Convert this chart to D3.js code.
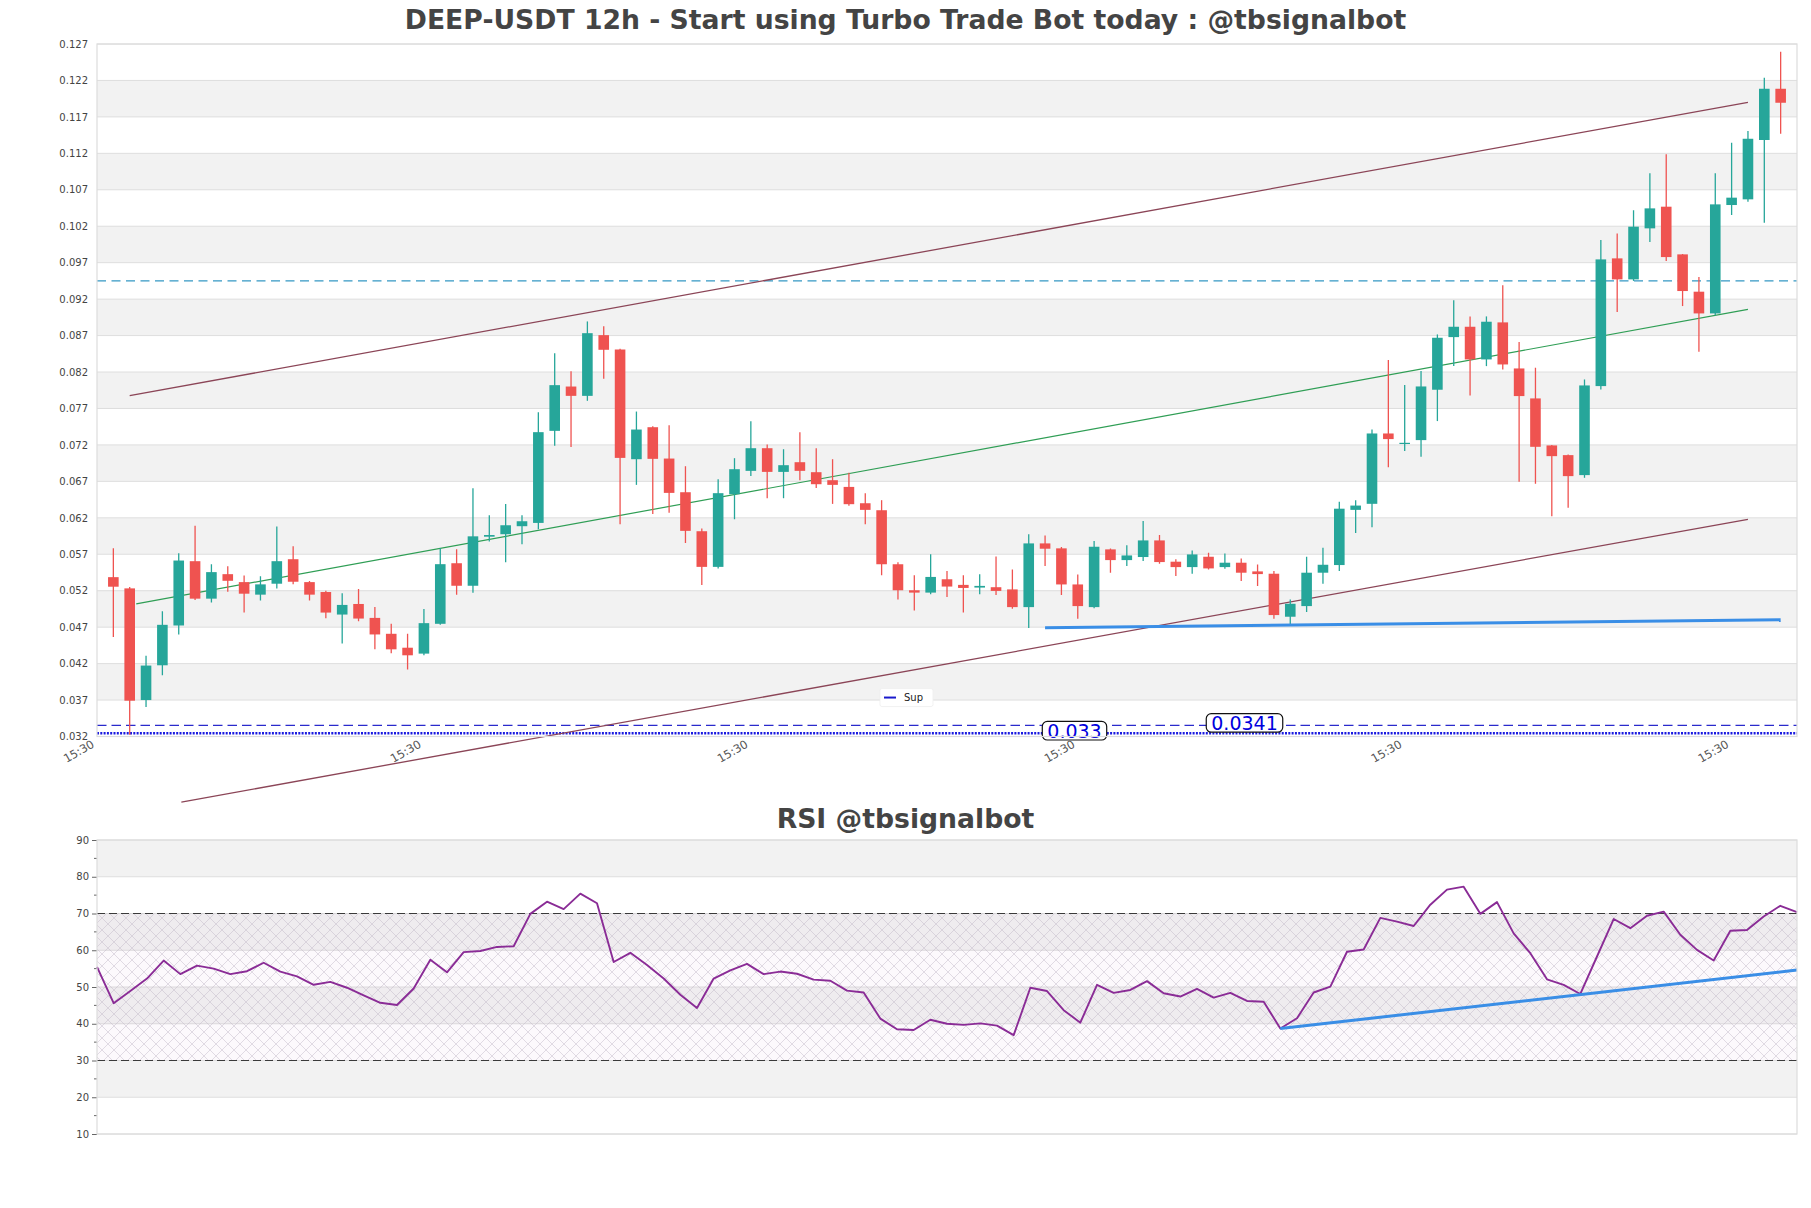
<!DOCTYPE html>
<html><head><meta charset="utf-8">
<script src="https://cdn.jsdelivr.net/npm/d3@7"></script>
<style>body{margin:0;background:#fff;} svg text{font-family:"DejaVu Sans",sans-serif;}</style>
</head><body><svg id="chart" width="1811" height="1208"></svg>
<script>
// ---------------- DATA ----------------
const opens = [
0.05386,0.05232,0.03700,0.04177,0.04723,0.05605,0.05091,0.05427,0.05318,0.05146,
0.05296,0.05632,0.05318,0.05182,0.04873,0.05018,0.04827,0.04609,0.04418,0.04337,
0.04746,0.05577,0.05268,0.05941,0.05975,0.06085,0.06130,0.07393,0.08001,0.07873,
0.08706,0.08509,0.07004,0.07443,0.07013,0.06551,0.06016,0.05527,0.06524,0.06844,
0.07155,0.06830,0.06963,0.06826,0.06716,0.06624,0.06400,0.06304,0.05563,0.05206,
0.05174,0.05357,0.05280,0.05243,0.05248,0.05218,0.04975,0.05849,0.05781,0.05286,
0.04975,0.05767,0.05620,0.05662,0.05890,0.05598,0.05524,0.05666,0.05524,0.05584,
0.05465,0.05433,0.04843,0.04989,0.05447,0.05552,0.06309,0.06392,0.07357,0.07216,
0.07266,0.07957,0.08679,0.08821,0.08373,0.08881,0.08249,0.07838,0.07193,0.07060,
0.06786,0.08007,0.09759,0.09471,0.10171,0.10468,0.09814,0.09302,0.09004,0.10491,
0.10569,0.11383,0.12086];
const highs = [
0.05782,0.05250,0.04309,0.04918,0.05714,0.06090,0.05564,0.05536,0.05409,0.05400,
0.06082,0.05809,0.05332,0.05200,0.05164,0.05223,0.04977,0.04746,0.04609,0.04950,
0.05782,0.05768,0.06606,0.06236,0.06391,0.06236,0.07649,0.08459,0.08212,0.08894,
0.08829,0.08520,0.07658,0.07457,0.07471,0.06908,0.06053,0.06730,0.07018,0.07526,
0.07205,0.07141,0.07375,0.07155,0.07004,0.06817,0.06538,0.06442,0.05591,0.05412,
0.05700,0.05472,0.05412,0.05426,0.05668,0.05492,0.05973,0.05959,0.05799,0.05424,
0.05881,0.05780,0.05822,0.06156,0.05963,0.05630,0.05753,0.05721,0.05712,0.05643,
0.05561,0.05470,0.05081,0.05666,0.05790,0.06421,0.06441,0.07412,0.08364,0.08021,
0.08213,0.08716,0.09183,0.08963,0.08963,0.09389,0.08611,0.08259,0.07200,0.07070,
0.08098,0.10011,0.10102,0.10418,0.10926,0.11186,0.09820,0.09503,0.10926,0.11346,
0.11506,0.12237,0.12593];
const lows = [
0.04564,0.03225,0.03605,0.04041,0.04600,0.05073,0.05037,0.05187,0.04900,0.05064,
0.05232,0.05287,0.05064,0.04823,0.04477,0.04782,0.04396,0.04341,0.04118,0.04314,
0.04732,0.05146,0.05173,0.05874,0.05591,0.05838,0.06044,0.07187,0.07173,0.07805,
0.08107,0.06112,0.06652,0.06254,0.06268,0.05856,0.05280,0.05504,0.06181,0.06775,
0.06469,0.06469,0.06716,0.06610,0.06391,0.06364,0.06112,0.05412,0.05080,0.04930,
0.05150,0.05115,0.04900,0.05150,0.05140,0.04953,0.04687,0.05538,0.05140,0.04815,
0.04960,0.05447,0.05538,0.05607,0.05570,0.05401,0.05433,0.05492,0.05502,0.05332,
0.05264,0.04815,0.04738,0.04907,0.05296,0.05469,0.05993,0.06072,0.06895,0.07115,
0.07037,0.07527,0.08281,0.07879,0.08281,0.08236,0.06694,0.06667,0.06223,0.06337,
0.06749,0.07961,0.09023,0.09450,0.09983,0.09722,0.09105,0.08478,0.08980,0.10354,
0.10537,0.10249,0.11469];
const closes = [
0.05255,0.03691,0.04173,0.04732,0.05614,0.05091,0.05455,0.05336,0.05159,0.05287,
0.05605,0.05323,0.05146,0.04900,0.05005,0.04818,0.04600,0.04396,0.04314,0.04755,
0.05564,0.05268,0.05946,0.05964,0.06098,0.06153,0.07375,0.08020,0.07873,0.08733,
0.08505,0.07022,0.07411,0.07009,0.06542,0.06021,0.05527,0.06538,0.06867,0.07155,
0.06830,0.06922,0.06844,0.06661,0.06652,0.06387,0.06309,0.05563,0.05206,0.05174,
0.05389,0.05257,0.05238,0.05266,0.05197,0.04975,0.05849,0.05776,0.05286,0.04989,
0.05803,0.05620,0.05684,0.05890,0.05593,0.05524,0.05698,0.05506,0.05584,0.05447,
0.05428,0.04866,0.05021,0.05447,0.05556,0.06325,0.06368,0.07357,0.07280,0.07229,
0.08002,0.08670,0.08821,0.08373,0.08890,0.08304,0.07870,0.07174,0.07046,0.06772,
0.08016,0.09745,0.09471,0.10194,0.10445,0.09777,0.09311,0.09004,0.10500,0.10592,
0.11400,0.12086,0.11894];
const rsiValues = [
55.5,45.6,48.9,52.3,57.2,53.5,55.8,55.0,53.5,54.3,
56.6,54.2,52.9,50.6,51.4,49.8,47.7,45.7,45.1,49.6,
57.4,54.0,59.5,59.8,60.9,61.1,69.9,73.2,71.2,75.4,
72.8,56.8,59.3,56.0,52.3,47.9,44.3,52.3,54.5,56.3,
53.5,54.2,53.6,52.0,51.7,49.0,48.5,41.4,38.5,38.3,
41.1,40.0,39.7,40.1,39.5,36.9,49.8,48.9,43.7,40.3,
50.6,48.4,49.2,51.6,48.3,47.4,49.5,47.1,48.4,46.2,
46.0,38.7,41.5,48.5,50.1,59.6,60.2,68.8,67.8,66.6,
72.4,76.5,77.3,69.9,73.1,64.6,59.2,52.1,50.6,48.1,
58.3,68.5,66.0,69.4,70.5,64.2,60.1,57.2,65.3,65.5,
69.2,72.1,70.4];

const priceTicks = [0.032,0.037,0.042,0.047,0.052,0.057,0.062,0.067,0.072,0.077,0.082,0.087,0.092,0.097,0.102,0.107,0.112,0.117,0.122,0.127];
const priceTickLabels = ["0.032","0.037","0.042","0.047","0.052","0.057","0.062","0.067","0.072","0.077","0.082","0.087","0.092","0.097","0.102","0.107","0.112","0.117","0.122","0.127"];
const xTickIndex = [-1,19,39,59,79,99];
const xTickLabels = ["15:30","15:30","15:30","15:30","15:30","15:30"];
const rsiTicks = [10,20,30,40,50,60,70,80,90];
const rsiMinorTicks = [15,25,35,45,55,65,75,85];

// trend / channel lines [index, price]
const channelUpper = [[1,0.07876],[100,0.1190]];
const channelLower = [[4.16,0.0230],[100,0.0618]];
const channelMid = [[1.4,0.0502],[100,0.0906]];
const supportLine = [[57,0.04692],[102,0.04803]];
const resistanceLevel = 0.0945;
const levelDashed = 0.03352;
const levelDotted = 0.03245;
const levelLabels = [{text:"0.033", idx:58.8, value:levelDotted},{text:"0.0341", idx:69.2, value:levelDashed}];
const rsiTrend = [[71,38.7],[102,54.6]];
const legendLabel = "Sup";
const mainTitle = "DEEP-USDT 12h - Start using Turbo Trade Bot today : @tbsignalbot";
const rsiTitle = "RSI @tbsignalbot";

// ---------------- LAYOUT ----------------
const svg = d3.select("#chart");
const W = 1811;
const M = {left:97, right:1797, top:44, bottom:736.5};
const R = {left:97, right:1797, top:840, bottom:1134};
const n = opens.length;
const x = d3.scaleLinear().domain([-1, n]).range([M.left, M.right]);
const y = d3.scaleLinear().domain([0.032, 0.127]).range([M.bottom, M.top]);
const xr = d3.scaleLinear().domain([0, n-1]).range([R.left, R.right]);
const yr = d3.scaleLinear().domain([10, 90]).range([R.bottom, R.top]);
const UP = "#26a69a", DOWN = "#ef5350";

const defs = svg.append("defs");
defs.append("clipPath").attr("id","clipMain").append("rect")
  .attr("x",M.left).attr("y",M.top).attr("width",M.right-M.left).attr("height",M.bottom-M.top);
const pat = defs.append("pattern").attr("id","hatch").attr("patternUnits","userSpaceOnUse")
  .attr("width",12).attr("height",12);
pat.append("path").attr("d","M0,0 L12,12 M12,0 L0,12 M-3,9 L3,15 M9,-3 L15,3 M-3,3 L3,-3 M9,15 L15,9")
  .attr("stroke","#bdb3c4").attr("stroke-width",0.6).attr("fill","none");

// titles
svg.append("text").attr("x",W/2).attr("y",29).attr("text-anchor","middle")
  .attr("font-size",26.67).attr("font-weight","bold").attr("fill","#444").text(mainTitle);
svg.append("text").attr("x",W/2).attr("y",828).attr("text-anchor","middle")
  .attr("font-size",26.67).attr("font-weight","bold").attr("fill","#444").text(rsiTitle);

// ---------------- MAIN PANEL ----------------
const g = svg.append("g");
for (let k = 0; k < priceTicks.length-1; k++) {
  if (k % 2 === 1) {
    g.append("rect").attr("x",M.left).attr("width",M.right-M.left)
      .attr("y",y(priceTicks[k+1])).attr("height",y(priceTicks[k])-y(priceTicks[k+1]))
      .attr("fill","#f2f2f2");
  }
}
g.selectAll(".grid").data(priceTicks).join("line")
  .attr("x1",M.left).attr("x2",M.right).attr("y1",d=>y(d)).attr("y2",d=>y(d))
  .attr("stroke","#dedede").attr("stroke-width",1);

// y axis labels
const yAxis = d3.axisLeft(y).tickValues(priceTicks).tickSize(0).tickPadding(9)
  .tickFormat((d,i)=>priceTickLabels[i]);
const ya = g.append("g").attr("transform",`translate(${M.left},0)`).call(yAxis);
ya.select(".domain").remove();
ya.selectAll("text").attr("font-size",10).attr("fill","#444").attr("font-family","DejaVu Sans");

// x axis labels (rotated, right end at the tick)
const xa = g.append("g").attr("transform",`translate(0,${M.bottom})`)
  .call(d3.axisBottom(x).tickValues(xTickIndex).tickSize(0).tickFormat((d,i)=>xTickLabels[i]));
xa.select(".domain").remove();
xa.selectAll("text").attr("font-size",11.5).attr("fill","#555").attr("font-family","DejaVu Sans")
  .attr("text-anchor","end").attr("y",0).attr("dy","0.8em")
  .attr("transform","translate(-7,2) rotate(-30)");

// level lines
g.append("line").attr("x1",M.left).attr("x2",M.right).attr("y1",y(resistanceLevel)).attr("y2",y(resistanceLevel))
  .attr("stroke","#3598c4").attr("stroke-width",1.3).attr("stroke-dasharray","9,5.5");
g.append("line").attr("x1",M.left).attr("x2",M.right).attr("y1",y(levelDashed)).attr("y2",y(levelDashed))
  .attr("stroke","#2a2acc").attr("stroke-width",1.4).attr("stroke-dasharray","9.5,5");
g.append("line").attr("x1",M.left).attr("x2",M.right).attr("y1",y(levelDotted)).attr("y2",y(levelDotted))
  .attr("stroke","#1a1ae0").attr("stroke-width",2.6).attr("stroke-dasharray","2,1.3");

// channel lines (not clipped)
const ln = d3.line().x(d=>x(d[0])).y(d=>y(d[1]));
g.append("path").attr("d",ln(channelUpper)).attr("stroke","#8b4557").attr("stroke-width",1.3).attr("fill","none");
g.append("path").attr("d",ln(channelLower)).attr("stroke","#8b4557").attr("stroke-width",1.3).attr("fill","none");
g.append("path").attr("d",ln(channelMid)).attr("stroke","#2f9e55").attr("stroke-width",1.2).attr("fill","none");

// candles
const idx = d3.range(n);
const bw = 10.6;
const cg = g.append("g").attr("clip-path","url(#clipMain)");
cg.selectAll(".wick").data(idx).join("line")
  .attr("x1",i=>x(i)).attr("x2",i=>x(i)).attr("y1",i=>y(highs[i])).attr("y2",i=>y(lows[i]))
  .attr("stroke",i=>closes[i]>=opens[i]?UP:DOWN).attr("stroke-width",1.3);
cg.selectAll(".body").data(idx).join("rect")
  .attr("x",i=>x(i)-bw/2).attr("width",bw)
  .attr("y",i=>y(Math.max(opens[i],closes[i])))
  .attr("height",i=>Math.max(1.2, Math.abs(y(opens[i])-y(closes[i]))))
  .attr("fill",i=>closes[i]>=opens[i]?UP:DOWN);

// support line
g.append("path").attr("d",ln(supportLine)).attr("stroke","#3a8ee6").attr("stroke-width",3).attr("fill","none");

// level labels
levelLabels.forEach(L => {
  const cx = x(L.idx), cy = y(L.value) - 2.5;
  const t = g.append("text").attr("x",cx).attr("y",cy+6.8).attr("text-anchor","middle")
    .attr("font-size",19).attr("fill","#0000dd").text(L.text);
  const bb = t.node().getBBox();
  g.insert("rect", () => t.node()).attr("x",bb.x-5).attr("y",cy-9.3).attr("width",bb.width+10).attr("height",18.6)
    .attr("rx",5).attr("fill","#fff").attr("stroke","#111").attr("stroke-width",1.2);
});

// legend
const lgx = x(46.9), lgy = y(0.0370) - 2.5;
g.append("rect").attr("x",lgx).attr("y",lgy-9).attr("width",53).attr("height",18).attr("rx",2)
  .attr("fill","#fff").attr("stroke","#eee").attr("stroke-width",0.8);
g.append("line").attr("x1",lgx+4).attr("x2",lgx+16).attr("y1",lgy).attr("y2",lgy)
  .attr("stroke","#1a1acc").attr("stroke-width",2);
g.append("text").attr("x",lgx+24).attr("y",lgy+3.5).attr("font-size",10).attr("fill","#222").text(legendLabel);

// frame
g.append("rect").attr("x",M.left).attr("y",M.top).attr("width",M.right-M.left).attr("height",M.bottom-M.top)
  .attr("fill","none").attr("stroke","#dcdcdc").attr("stroke-width",1.2);

// ---------------- RSI PANEL ----------------
const r = svg.append("g");
for (let k = 0; k < rsiTicks.length-1; k++) {
  if (k % 2 === 1) {
    r.append("rect").attr("x",R.left).attr("width",R.right-R.left)
      .attr("y",yr(rsiTicks[k+1])).attr("height",yr(rsiTicks[k])-yr(rsiTicks[k+1])).attr("fill","#f2f2f2");
  }
}
r.selectAll(".rgrid").data(rsiTicks).join("line")
  .attr("x1",R.left).attr("x2",R.right).attr("y1",d=>yr(d)).attr("y2",d=>yr(d))
  .attr("stroke","#dedede").attr("stroke-width",1);
r.append("rect").attr("x",R.left).attr("width",R.right-R.left).attr("y",yr(70)).attr("height",yr(30)-yr(70))
  .attr("fill","#800080").attr("fill-opacity",0.025);
r.append("rect").attr("x",R.left).attr("width",R.right-R.left).attr("y",yr(70)).attr("height",yr(30)-yr(70))
  .attr("fill","url(#hatch)").attr("opacity",0.75);
[30,70].forEach(v => r.append("line").attr("x1",R.left).attr("x2",R.right).attr("y1",yr(v)).attr("y2",yr(v))
  .attr("stroke","#3a3a3a").attr("stroke-width",1.2).attr("stroke-dasharray","8,4"));

const ryAxis = d3.axisLeft(yr).tickValues(rsiTicks).tickSize(5).tickPadding(3);
const rya = r.append("g").attr("transform",`translate(${R.left},0)`).call(ryAxis);
rya.select(".domain").remove();
rya.selectAll("line").attr("stroke","#666");
rya.selectAll("text").attr("font-size",10).attr("fill","#444").attr("font-family","DejaVu Sans");
r.selectAll(".minor").data(rsiMinorTicks).join("line")
  .attr("x1",R.left-3).attr("x2",R.left).attr("y1",d=>yr(d)).attr("y2",d=>yr(d))
  .attr("stroke","#666").attr("stroke-width",1);

r.append("path").datum(rsiValues)
  .attr("d", d3.line().x((d,i)=>xr(i)).y(d=>yr(d)))
  .attr("fill","none").attr("stroke","#8a2c96").attr("stroke-width",1.9).attr("stroke-linejoin","round");
r.append("path").attr("d", d3.line().x(d=>xr(d[0])).y(d=>yr(d[1]))(rsiTrend))
  .attr("fill","none").attr("stroke","#3a8ee6").attr("stroke-width",3);

r.append("rect").attr("x",R.left).attr("y",R.top).attr("width",R.right-R.left).attr("height",R.bottom-R.top)
  .attr("fill","none").attr("stroke","#dcdcdc").attr("stroke-width",1.2);
</script></body></html>
